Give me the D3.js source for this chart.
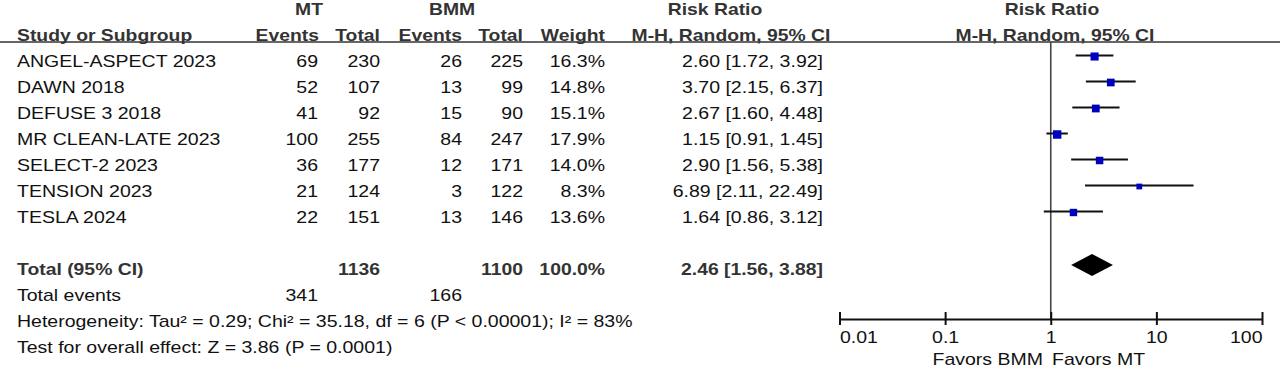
<!DOCTYPE html>
<html>
<head>
<meta charset="utf-8">
<script src="https://cdn.jsdelivr.net/npm/d3@7"></script>
<style>
    body { margin: 0; background: #fff; }
    svg { display: block; font-family: "Liberation Sans", Arial, sans-serif; }
</style>
</head>
<body>
<div id="forest"></div>
<script>
// data
const studies = ["ANGEL-ASPECT 2023", "DAWN 2018", "DEFUSE 3 2018", "MR CLEAN-LATE 2023",
    "SELECT-2 2023", "TENSION 2023", "TESLA 2024"];
const mtEvents = [69, 52, 41, 100, 36, 21, 22];
const mtTotal = [230, 107, 92, 255, 177, 124, 151];
const bmmEvents = [26, 13, 15, 84, 12, 3, 13];
const bmmTotal = [225, 99, 90, 247, 171, 122, 146];
const weights = [16.3, 14.8, 15.1, 17.9, 14.0, 8.3, 13.6];
const riskRatio = [2.60, 3.70, 2.67, 1.15, 2.90, 6.89, 1.64];
const ciLower = [1.72, 2.15, 1.60, 0.91, 1.56, 2.11, 0.86];
const ciUpper = [3.92, 6.37, 4.48, 1.45, 5.38, 22.49, 3.12];
const pooled = [2.46, 1.56, 3.88];       // estimate, lower, upper
const totals = [1136, 1100];             // MT, BMM
const totalEvents = [341, 166];          // MT, BMM
const axisTicks = [0.01, 0.1, 1, 10, 100];

const width = 1280, height = 369;
const sx = 1.22; // text in the figure is stretched horizontally

const svg = d3.select("#forest")
    .append("svg")
    .attr("width", width)
    .attr("height", height);

// row baselines: -2 and -1 are header rows, 0..6 studies, 8.. summary rows
const yRow = d3.scaleLinear().domain([0, 1]).range([67, 93]);

const xScale = d3.scaleLog()
    .domain([0.01, 100])
    .range([839.5, 1262]);

function label(x, y, txt, anchor, bold) {
    return svg.append("text")
        .attr("transform", `translate(${x},${y}) scale(${bold ? 1.21 : sx},1)`)
        .attr("text-anchor", anchor || "start")
        .attr("font-size", "16px")
        .attr("font-weight", bold ? "bold" : "normal")
        .attr("fill", bold ? "#333" : "#111")
        .text(txt);
}

// headers
label(309, yRow(-2), "MT", "middle", true);
label(452, yRow(-2), "BMM", "middle", true);
label(715, yRow(-2), "Risk Ratio", "middle", true);
label(1052, yRow(-2), "Risk Ratio", "middle", true);
label(17, yRow(-1), "Study or Subgroup", "start", true);
label(319, yRow(-1), "Events", "end", true);
label(380, yRow(-1), "Total", "end", true);
label(462, yRow(-1), "Events", "end", true);
label(523, yRow(-1), "Total", "end", true);
label(605, yRow(-1), "Weight", "end", true);
label(731, yRow(-1), "M-H, Random, 95% CI", "middle", true);
label(1055, yRow(-1), "M-H, Random, 95% CI", "middle", true);

svg.append("line")
    .attr("x1", 0).attr("x2", width)
    .attr("y1", 42).attr("y2", 42)
    .attr("stroke", "#333")
    .attr("stroke-width", 1.6);

const fmt = d3.format(".2f");

// study rows
studies.forEach(function (s, i) {
    const y = yRow(i);
    label(17, y, s, "start");
    label(318, y, mtEvents[i], "end");
    label(380, y, mtTotal[i], "end");
    label(462, y, bmmEvents[i], "end");
    label(523, y, bmmTotal[i], "end");
    label(605, y, weights[i].toFixed(1) + "%", "end");
    label(823, y, `${fmt(riskRatio[i])} [${fmt(ciLower[i])}, ${fmt(ciUpper[i])}]`, "end");
});

// summary rows
label(17, yRow(8), "Total (95% CI)", "start", true);
label(380, yRow(8), totals[0], "end", true);
label(523, yRow(8), totals[1], "end", true);
label(605, yRow(8), "100.0%", "end", true);
label(823, yRow(8), `${fmt(pooled[0])} [${fmt(pooled[1])}, ${fmt(pooled[2])}]`, "end", true);
label(17, yRow(9), "Total events", "start");
label(318, yRow(9), totalEvents[0], "end");
label(462, yRow(9), totalEvents[1], "end");
label(17, yRow(10), "Heterogeneity: Tau\u00b2 = 0.29; Chi\u00b2 = 35.18, df = 6 (P < 0.00001); I\u00b2 = 83%", "start");
label(17, yRow(11), "Test for overall effect: Z = 3.86 (P = 0.0001)", "start");

// line of no effect
const axisY = 319;
svg.append("line")
    .attr("x1", xScale(1)).attr("x2", xScale(1))
    .attr("y1", 42).attr("y2", axisY)
    .attr("stroke", "#444")
    .attr("stroke-width", 1.6);

// confidence intervals
svg.append("g")
    .selectAll("line")
    .data(studies)
    .enter()
    .append("line")
    .attr("x1", (d, i) => xScale(ciLower[i]))
    .attr("x2", (d, i) => xScale(ciUpper[i]))
    .attr("y1", (d, i) => yRow(i) - 11.5)
    .attr("y2", (d, i) => yRow(i) - 11.5)
    .attr("stroke", "#111")
    .attr("stroke-width", 2);

// weight squares
svg.append("g")
    .selectAll("rect")
    .data(studies)
    .enter()
    .append("rect")
    .attr("x", (d, i) => xScale(riskRatio[i]) - Math.sqrt(weights[i]))
    .attr("y", (d, i) => yRow(i) - 10.5 - Math.sqrt(weights[i]))
    .attr("width", (d, i) => 2 * Math.sqrt(weights[i]))
    .attr("height", (d, i) => 2 * Math.sqrt(weights[i]))
    .attr("fill", "#0000bf");

// pooled diamond
const dy = yRow(8) - 10;
svg.append("path")
    .attr("d", `M${xScale(pooled[1])},${dy} L${xScale(pooled[0])},${dy - 11} ` +
        `L${xScale(pooled[2])},${dy} L${xScale(pooled[0])},${dy + 11} Z`)
    .attr("fill", "#000");

// axis
const axis = svg.append("g")
    .attr("transform", `translate(0,${axisY})`)
    .call(d3.axisBottom(xScale)
        .tickValues(axisTicks)
        .tickFormat(d => String(d))
        .tickSizeOuter(0));

axis.select(".domain").attr("stroke", "#111").attr("stroke-width", 2);
axis.selectAll(".tick line")
    .attr("y1", -7).attr("y2", 6)
    .attr("stroke", "#111").attr("stroke-width", 2);
axis.selectAll(".tick text")
    .attr("y", 24).attr("dy", 0)
    .attr("font-size", "16px")
    .attr("font-family", "Liberation Sans, Arial, sans-serif")
    .attr("fill", "#111")
    .attr("transform", `scale(${sx},1)`)
    .attr("text-anchor", (d, i) => i === 0 ? "start" : (i === axisTicks.length - 1 ? "end" : "middle"));

label(1043, 365, "Favors BMM", "end");
label(1052, 365, "Favors MT", "start");
</script>
</body>
</html>
